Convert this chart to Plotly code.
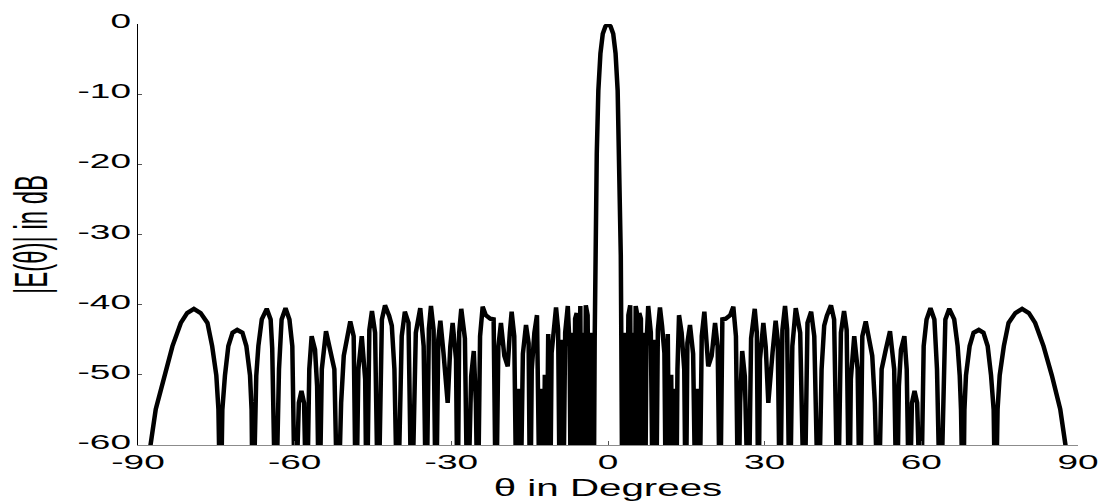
import plotly.graph_objects as go

# Array-factor magnitude |E(theta)| in dB for theta from -90 deg to broadside.
# The pattern is symmetric about theta = 0, so the other half is its mirror.
theta_half = [
    -88.8, -87.6, -86.6, -85.0, -83.4, -81.8, -80.6, -79.3, -78.0, -76.7,
    -75.8, -75.0, -74.6, -74.2, -73.85, -73.35, -72.7, -71.9, -71.0, -70.0,
    -69.25, -68.55, -68.25, -68.0, -67.6, -67.35, -66.95, -66.3, -65.35, -64.6,
    -64.3, -63.65, -63.0, -62.5, -61.75, -61.0, -60.45, -59.9, -59.2, -58.7,
    -58.2, -57.7, -57.2, -56.75, -56.1, -55.7, -55.3, -54.8, -54.0, -53.2,
    -52.4, -51.75, -51.1, -50.6, -49.35, -48.7, -48.25, -47.8, -47.15, -46.5,
    -46.2, -45.7, -45.2, -44.6, -44.0, -43.3, -42.7, -41.9, -41.4, -40.9,
    -40.3, -39.5, -38.9, -38.2, -37.6, -36.8, -35.95, -35.3, -34.8, -34.3,
    -33.9, -33.4, -32.95, -32.5, -32.1, -31.5, -30.7, -30.2, -29.75, -29.1,
    -28.8, -28.5, -28.1, -27.4, -26.9, -26.2, -25.7, -25.3, -24.95, -24.5,
    -24.0, -23.4, -22.55, -21.9, -21.45, -21.0, -20.5, -19.85, -19.2, -18.8,
    -18.45, -17.95, -17.5, -17.1, -16.8, -16.3, -15.7, -15.2, -14.9, -14.6,
    -14.1, -13.6, -13.3, -13.05, -12.7, -12.4, -12.1, -11.8, -11.45, -11.1,
    -10.8, -10.35, -9.95, -9.55, -9.2, -8.9, -8.6, -8.2, -7.7, -7.35,
    -7.1, -6.85, -6.6, -6.3, -6.0, -5.75, -5.5, -5.3, -5.05, -4.8,
    -4.55, -4.25, -3.9, -3.6, -3.35, -3.1, -2.75,
    -2.55, -2.45, -2.15, -1.85, -1.45, -1.0, -0.5, 0.0,
]
level_half_db = [
    -72, -60, -54.9, -50.1, -45.9, -42.6, -41.2, -40.6, -41.2, -42.6,
    -45.9, -50.1, -54.9, -72, -55, -50.1, -45.9, -44.0, -43.6, -44.0,
    -45.9, -50.1, -55, -72, -55, -50.1, -45.9, -42.1, -40.6, -42.1,
    -46.2, -72, -49.2, -42.1, -40.5, -42.1, -45.9, -72, -54, -52.3,
    -54, -72, -49.2, -44.5, -46.4, -51.6, -72, -49.2, -43.8, -46.4,
    -49.2, -72, -54, -47.3, -42.4, -44.5, -72, -49.2, -44.5, -50.6,
    -72, -43.6, -40.9, -44.0, -72, -42.1, -40.1, -41.6, -43.0, -49.2,
    -72, -44.5, -41.0, -42.6, -72, -44.0, -40.5, -45.9, -72, -43.5,
    -40.2, -43.6, -72, -45.0, -42.3, -46.9, -54.0, -46.0, -42.6, -47.8,
    -72, -44.0, -40.6, -44.8, -72, -50.2, -46.6, -54.0, -72, -44.5,
    -40.3, -41.5, -42.0, -42.1, -72, -46.0, -42.6, -47.3, -48.8, -44.0,
    -41.0, -44.5, -72, -52.0, -72, -47.0, -42.9, -45.5, -72, -49.2,
    -44.0, -41.5, -49.2, -72, -52.0, -72, -50.0, -72, -44.2, -72,
    -46.9, -43.0, -40.4, -43.6, -72, -45.0, -72, -44.0, -40.2, -46.0,
    -72, -44.0, -72, -42.0, -41.2, -72, -41.0, -40.2, -72, -44.0,
    -72, -40.1, -41.5, -72, -44.0, -50.6, -72,
    -45, -33, -18.5, -9.5, -4.2, -1.4, -0.35, 0.0,
]

# full -90..90 sweep: measured half followed by its mirror image
theta_deg = theta_half + [-t for t in reversed(theta_half[:-1])]
level_db = level_half_db + list(reversed(level_half_db[:-1]))

x_ticks = [-90, -60, -30, 0, 30, 60, 90]
y_ticks = [-60, -50, -40, -30, -20, -10, 0]

FONT = "Liberation Sans, Arial, Helvetica, sans-serif"

fig = go.Figure(
    go.Scatter(
        x=theta_deg,
        y=level_db,
        mode="lines",
        line=dict(color="black", width=4.5),
        hoverinfo="skip",
    )
)

fig.update_layout(
    width=1103,
    height=501,
    margin=dict(l=138, r=25, t=24, b=56, autoexpand=False),
    paper_bgcolor="white",
    plot_bgcolor="white",
    showlegend=False,
    font=dict(family=FONT, color="black"),
)

fig.update_xaxes(
    range=[-90, 90],
    tickvals=x_ticks,
    ticktext=[str(v) for v in x_ticks],
    ticks="inside",
    ticklen=4,
    tickwidth=1,
    tickcolor="#555555",
    showline=True,
    linecolor="#8c8c8c",
    linewidth=1,
    showgrid=False,
    zeroline=False,
    automargin=False,
    tickfont=dict(size=20, family=FONT, color="black"),
    ticklabelstandoff=0,
    title=dict(text="θ in Degrees", font=dict(size=24, family=FONT, color="black"), standoff=1),
)

fig.update_yaxes(
    range=[-60, 0],
    tickvals=y_ticks,
    ticktext=[str(v) for v in y_ticks],
    ticks="inside",
    ticklen=4,
    tickwidth=1,
    tickcolor="#555555",
    showline=True,
    linecolor="black",
    linewidth=1,
    showgrid=False,
    zeroline=False,
    automargin=False,
    tickfont=dict(size=20, family=FONT, color="black"),
    ticklabelstandoff=2,
    title=dict(text="|E(θ)| in dB", font=dict(size=24, family=FONT, color="black"), standoff=55),
)

# widen the lettering horizontally (and nudge it vertically), keeping each
# label anchored where plotly put it
post_js = """
var gd = document.getElementById('{plot_id}');
function widen(sel, sx, anchor, dy) {
  gd.querySelectorAll(sel).forEach(function (el) {
    var r = el.getBoundingClientRect();
    var g = document.createElementNS('http://www.w3.org/2000/svg', 'g');
    el.parentNode.insertBefore(g, el);
    g.appendChild(el);
    var m = g.getScreenCTM();
    var ax = anchor === 'end' ? r.right : r.left + r.width / 2;
    var cx = (ax - m.e) / m.a;
    g.setAttribute('transform',
      'translate(' + cx + ',' + dy + ') scale(' + sx + ',1) translate(' + (-cx) + ',0)');
  });
}
widen('.xtick text', 1.85, 'middle', -1);
widen('.ytick text', 1.85, 'end', -3);
widen('.g-xtitle text', 1.68, 'middle', 0);
widen('.g-ytitle text', 1.95, 'middle', 0);
"""

fig.write_html("out.html", post_script=post_js)
